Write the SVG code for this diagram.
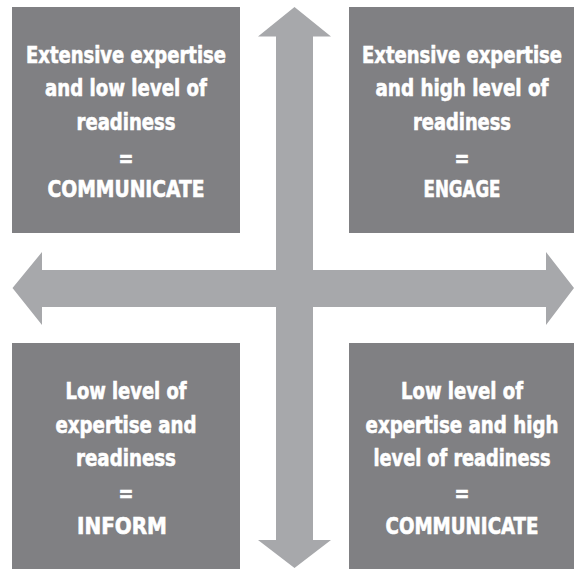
<svg xmlns="http://www.w3.org/2000/svg" width="574" height="569" viewBox="0 0 574 569">
  <style>
    .box { fill: #808083; }
    .arrow { fill: #a7a8ab; }
    .label { fill: #ffffff; stroke: #ffffff; stroke-width: 0.6px; font-family: "DejaVu Sans Condensed", "Liberation Sans", sans-serif; font-weight: bold; font-size: 23.5px; text-anchor: middle; }
  </style>
  <rect width="574" height="569" fill="#ffffff"/>

  <!-- two-way axes -->
  <g id="connectors">
    <polygon class="arrow" points="294.5,7 331,36.5 313,36.5 313,540 331,540 294.5,568 258,540 276,540 276,36.5 258,36.5"/>
    <polygon class="arrow" points="12.5,288 42,252 42,270 546,270 546,252 574,288 546,325 546,307 42,307 42,325"/>
  </g>

  <!-- quadrant labels are narrowed horizontally to a condensed look -->
  <g id="top-left">
    <rect class="box" x="12" y="7" width="228" height="226"/>
    <g transform="translate(126 0) scale(0.87 1)">
      <text class="label" x="0" y="63" textLength="229.9" lengthAdjust="spacingAndGlyphs">Extensive expertise</text>
      <text class="label" x="0" y="96" textLength="186.2" lengthAdjust="spacingAndGlyphs">and low level of</text>
      <text class="label" x="0" y="130" textLength="113.8" lengthAdjust="spacingAndGlyphs">readiness</text>
      <text class="label" x="0" y="166" textLength="17.2" lengthAdjust="spacingAndGlyphs">=</text>
      <text class="label" x="0" y="197" textLength="180.5" lengthAdjust="spacingAndGlyphs">COMMUNICATE</text>
    </g>
  </g>

  <g id="top-right">
    <rect class="box" x="349" y="7" width="225" height="226"/>
    <g transform="translate(462 0) scale(0.87 1)">
      <text class="label" x="0" y="63" textLength="229.9" lengthAdjust="spacingAndGlyphs">Extensive expertise</text>
      <text class="label" x="0" y="96" textLength="198.9" lengthAdjust="spacingAndGlyphs">and high level of</text>
      <text class="label" x="0" y="130" textLength="112.6" lengthAdjust="spacingAndGlyphs">readiness</text>
      <text class="label" x="0" y="166" textLength="17.2" lengthAdjust="spacingAndGlyphs">=</text>
      <text class="label" x="0" y="197" textLength="88.5" lengthAdjust="spacingAndGlyphs">ENGAGE</text>
    </g>
  </g>

  <g id="bottom-left">
    <rect class="box" x="12" y="343" width="228" height="226"/>
    <g transform="translate(126 0) scale(0.87 1)">
      <text class="label" x="0" y="399" textLength="139.1" lengthAdjust="spacingAndGlyphs">Low level of</text>
      <text class="label" x="0" y="433" textLength="162.1" lengthAdjust="spacingAndGlyphs">expertise and</text>
      <text class="label" x="0" y="466" textLength="114.9" lengthAdjust="spacingAndGlyphs">readiness</text>
      <text class="label" x="0" y="501" textLength="17.2" lengthAdjust="spacingAndGlyphs">=</text>
      <text class="label" x="-4.6" y="534" textLength="103.4" lengthAdjust="spacingAndGlyphs">INFORM</text>
    </g>
  </g>

  <g id="bottom-right">
    <rect class="box" x="349" y="343" width="225" height="226"/>
    <g transform="translate(462 0) scale(0.87 1)">
      <text class="label" x="0" y="399" textLength="140.2" lengthAdjust="spacingAndGlyphs">Low level of</text>
      <text class="label" x="0" y="433" textLength="221.8" lengthAdjust="spacingAndGlyphs">expertise and high</text>
      <text class="label" x="0" y="466" textLength="203.4" lengthAdjust="spacingAndGlyphs">level of readiness</text>
      <text class="label" x="0" y="501" textLength="17.2" lengthAdjust="spacingAndGlyphs">=</text>
      <text class="label" x="0" y="534" textLength="175.9" lengthAdjust="spacingAndGlyphs">COMMUNICATE</text>
    </g>
  </g>
</svg>
